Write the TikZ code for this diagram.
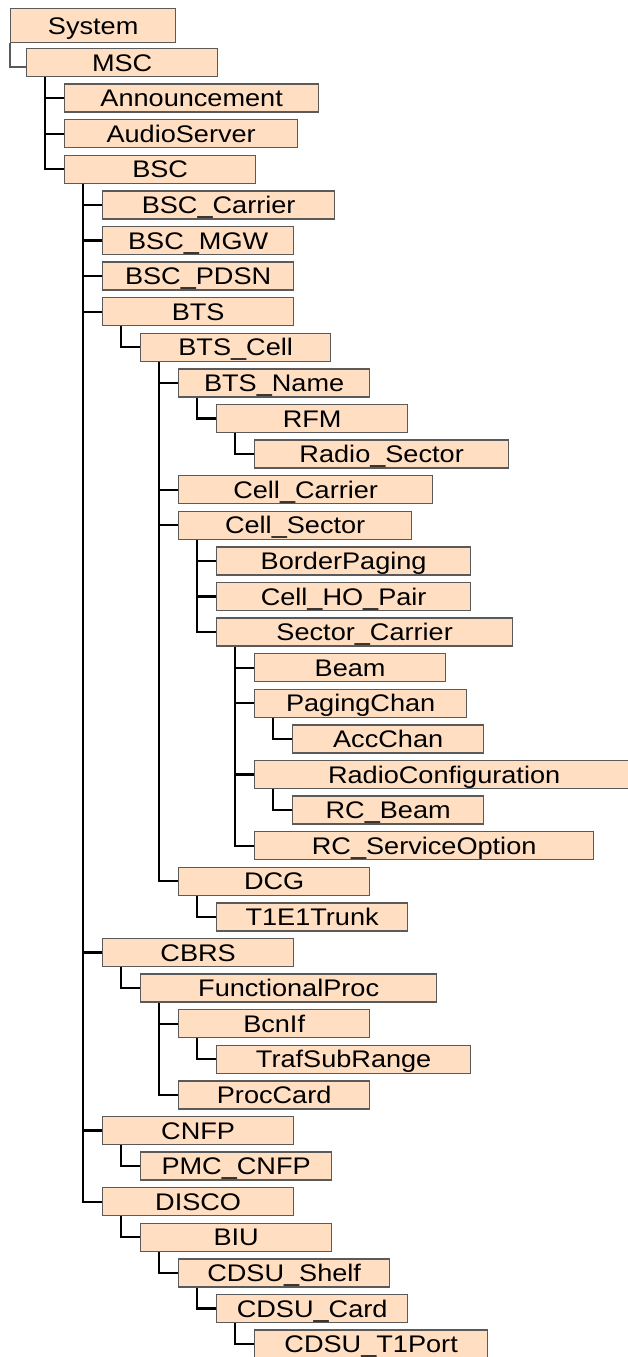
\documentclass[tikz,border=0pt]{standalone}
\usepackage{fontspec}
\setmainfont{Liberation Sans}[FakeStretch=1.13]
\usepackage{tikz}
\definecolor{peach}{RGB}{255,222,194}
\definecolor{boxline}{RGB}{90,90,90}
\tikzset{obj/.style={draw=boxline, line width=1.3pt, fill=peach, anchor=west, inner sep=0pt,
		minimum height=28pt, text height=17pt, text depth=0pt, font=\fontsize{24}{28}\selectfont},
	link/.style={line width=2.2pt, black}}
\begin{document}
\begin{tikzpicture}[x=1pt,y=-1pt]
	\useasboundingbox (0,0) rectangle (627,1357);
%	\draw [help lines] (0,0) grid (627,1357);
	%Radice
	\node [obj, minimum width=165pt, minimum height=34pt] (system) at (10,25.5) {System};
	\node [obj, minimum width=191pt] (msc) at (26,62.5) {MSC};
	\node [obj, minimum width=254pt] (ann) at (64,98.1) {Announcement};
	\node [obj, minimum width=233pt] (audio) at (64,133.7) {AudioServer};
	\node [obj, minimum width=191pt] (bsc) at (64,169.3) {BSC};
	%BSC
	\node [obj, minimum width=232pt] (bsccar) at (102,204.9) {BSC\_Carrier};
	\node [obj, minimum width=191pt] (bscmgw) at (102,240.5) {BSC\_MGW};
	\node [obj, minimum width=191pt] (bscpdsn) at (102,276.1) {BSC\_PDSN};
	\node [obj, minimum width=191pt] (bts) at (102,311.7) {BTS};
	%BTS
	\node [obj, minimum width=190pt] (btscell) at (140,347.3) {BTS\_Cell};
	\node [obj, minimum width=191pt] (btsname) at (178,382.9) {BTS\_Name};
	\node [obj, minimum width=191pt] (rfm) at (216,418.5) {RFM};
	\node [obj, minimum width=254pt] (radsec) at (254,454.1) {Radio\_Sector};
	\node [obj, minimum width=254pt] (cellcar) at (178,489.7) {Cell\_Carrier};
	\node [obj, minimum width=233pt] (cellsec) at (178,525.3) {Cell\_Sector};
	%Cell_Sector
	\node [obj, minimum width=254pt] (border) at (216,560.9) {BorderPaging};
	\node [obj, minimum width=254pt] (hopair) at (216,596.5) {Cell\_HO\_Pair};
	\node [obj, minimum width=296pt] (seccar) at (216,632.1) {Sector\_Carrier};
	%Sector_Carrier
	\node [obj, minimum width=191pt] (beam) at (254,667.7) {Beam};
	\node [obj, minimum width=212pt] (paging) at (254,703.3) {PagingChan};
	\node [obj, minimum width=191pt] (acc) at (292,738.9) {AccChan};
	\node [obj, minimum width=379pt] (radconf) at (254,774.5) {RadioConfiguration};
	\node [obj, minimum width=191pt] (rcbeam) at (292,810.1) {RC\_Beam};
	\node [obj, minimum width=339pt] (rcserv) at (254,845.7) {RC\_ServiceOption};
	\node [obj, minimum width=191pt] (dcg) at (178,881.3) {DCG};
	\node [obj, minimum width=191pt] (trunk) at (216,916.9) {T1E1Trunk};
	%CBRS
	\node [obj, minimum width=191pt] (cbrs) at (102,952.5) {CBRS};
	\node [obj, minimum width=296pt] (funproc) at (140,988.1) {FunctionalProc};
	\node [obj, minimum width=191pt] (bcnif) at (178,1023.7) {BcnIf};
	\node [obj, minimum width=254pt] (trafsub) at (216,1059.3) {TrafSubRange};
	\node [obj, minimum width=191pt] (proccard) at (178,1094.9) {ProcCard};
	%CNFP
	\node [obj, minimum width=191pt] (cnfp) at (102,1130.5) {CNFP};
	\node [obj, minimum width=191pt] (pmc) at (140,1166.1) {PMC\_CNFP};
	%DISCO
	\node [obj, minimum width=191pt] (disco) at (102,1201.7) {DISCO};
	\node [obj, minimum width=191pt] (biu) at (140,1237.3) {BIU};
	\node [obj, minimum width=211pt] (shelf) at (178,1272.9) {CDSU\_Shelf};
	\node [obj, minimum width=191pt] (card) at (216,1308.5) {CDSU\_Card};
	\node [obj, minimum width=233pt] (port) at (254,1344.1) {CDSU\_T1Port};
	%Collegamenti
	\draw [boxline, line width=1.2pt] (system.south west) |- ([yshift=-4.5pt]msc.west);
	\foreach \p/\c in {msc/ann, msc/audio, msc/bsc,
		bsc/bsccar, bsc/bscmgw, bsc/bscpdsn, bsc/bts, bsc/cbrs, bsc/cnfp, bsc/disco,
		bts/btscell, btscell/btsname, btscell/cellcar, btscell/cellsec, btscell/dcg,
		btsname/rfm, rfm/radsec,
		cellsec/border, cellsec/hopair, cellsec/seccar,
		seccar/beam, seccar/paging, seccar/radconf, seccar/rcserv,
		paging/acc, radconf/rcbeam, dcg/trunk,
		cbrs/funproc, funproc/bcnif, funproc/proccard, bcnif/trafsub,
		cnfp/pmc, disco/biu, biu/shelf, shelf/card, card/port}
		\draw [link] ([xshift=19pt]\p.south west) |- (\c.west);
\end{tikzpicture}
\end{document}
